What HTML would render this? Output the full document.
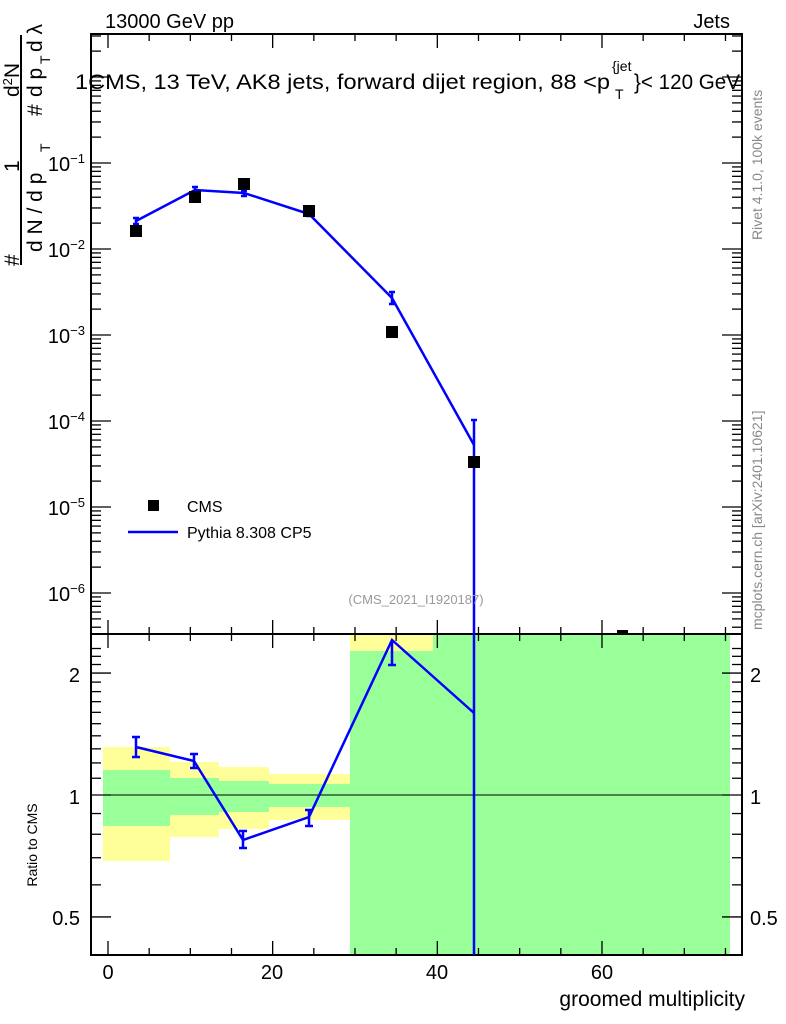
<!DOCTYPE html>
<html><head><meta charset="utf-8"><style>body{margin:0;background:#fff}svg{display:block;font-family:"Liberation Sans",sans-serif}</style></head>
<body>
<svg id="s" width="786" height="1024" viewBox="0 0 786 1024" xmlns="http://www.w3.org/2000/svg">
<rect width="786" height="1024" fill="#fff"/>
<g>
<rect x="103" y="747" width="67" height="114" fill="#ffff99"/>
<rect x="103" y="770" width="67" height="56" fill="#99ff99"/>
<rect x="170" y="762" width="49" height="75" fill="#ffff99"/>
<rect x="170" y="778" width="49" height="37" fill="#99ff99"/>
<rect x="219" y="767" width="50" height="62" fill="#ffff99"/>
<rect x="219" y="781" width="50" height="31" fill="#99ff99"/>
<rect x="269" y="774" width="81" height="46" fill="#ffff99"/>
<rect x="269" y="784" width="81" height="23" fill="#99ff99"/>
<rect x="350" y="634" width="83" height="17" fill="#ffff99"/>
<rect x="350" y="651" width="83" height="304" fill="#99ff99"/>
<rect x="433" y="634" width="297" height="321" fill="#99ff99"/>
</g>
<line x1="91" y1="795" x2="742" y2="795" stroke="#000" stroke-width="1"/>
<g id="ticks" stroke="#000" stroke-width="1.3"></g>
<rect x="91" y="34" width="651" height="600" fill="none" stroke="#000" stroke-width="2"/>
<rect x="91" y="634" width="651" height="321" fill="none" stroke="#000" stroke-width="2"/>
<g stroke="#0000ff" stroke-width="2.5" fill="none">
<polyline points="136,221 195,190 244,193 309,214 392,298 474,445"/>
<line x1="474" y1="420" x2="474" y2="634"/>
<path d="M136,218V224M133,218h6M133,224h6 M195,187V193M192,187h6M192,193h6 M244,191V196M241,191h6M241,196h6 M309,212V216M306,212h6M306,216h6 M392,292V304M389,292h6M389,304h6 M471,420h6"/>
</g>
<g fill="#000">
<rect x="130" y="225" width="12" height="12"/>
<rect x="189" y="191" width="12" height="12"/>
<rect x="238" y="178" width="12" height="12"/>
<rect x="303" y="205" width="12" height="12"/>
<rect x="386" y="326" width="12" height="12"/>
<rect x="468" y="456" width="12" height="12"/>
<rect x="617" y="630" width="11" height="4"/>
</g>
<g stroke="#0000ff" stroke-width="2.5" fill="none">
<polyline points="136,747 194,761 243,840 309,817 392,640 474,713"/>
<line x1="474" y1="634" x2="474" y2="955"/>
<path d="M136,737V757M132,737h8M132,757h8 M194,754V768M190,754h8M190,768h8 M243,831V848M239,831h8M239,848h8 M309,810V826M305,810h8M305,826h8 M392,640V665M388,665h8"/>
</g>
<rect x="148" y="500" width="11" height="11" fill="#000"/>
<text x="187" y="512" font-size="16">CMS</text>
<line x1="128" y1="532" x2="178" y2="532" stroke="#0000ff" stroke-width="2.5"/>
<text x="187" y="538" font-size="16">Pythia 8.308 CP5</text>
<text x="416" y="604" font-size="13" fill="#999" text-anchor="middle">(CMS_2021_I1920187)</text>
<text x="105" y="28" font-size="20">13000 GeV pp</text>
<text x="730" y="28" font-size="20" text-anchor="end">Jets</text>
<text x="75" y="89" font-size="21" textLength="535" lengthAdjust="spacingAndGlyphs">1CMS, 13 TeV, AK8 jets, forward dijet region, 88 &lt;p</text>
<text x="612" y="71" font-size="14">{jet</text>
<text x="615" y="99" font-size="14">T</text>
<text x="634" y="89" font-size="21" textLength="106" lengthAdjust="spacingAndGlyphs">}&lt; 120 GeV</text>
<g font-size="20" text-anchor="end">
<text x="85" y="171">10<tspan font-size="13" dy="-8">−1</tspan></text>
<text x="85" y="257">10<tspan font-size="13" dy="-8">−2</tspan></text>
<text x="85" y="343">10<tspan font-size="13" dy="-8">−3</tspan></text>
<text x="85" y="429">10<tspan font-size="13" dy="-8">−4</tspan></text>
<text x="85" y="515">10<tspan font-size="13" dy="-8">−5</tspan></text>
<text x="85" y="601">10<tspan font-size="13" dy="-8">−6</tspan></text>
<text x="80" y="682">2</text><text x="80" y="804">1</text><text x="80" y="925">0.5</text>
</g>
<g font-size="20">
<text x="750" y="682">2</text><text x="750" y="804">1</text><text x="750" y="925">0.5</text>
</g>
<g font-size="20" text-anchor="middle">
<text x="108" y="979">0</text><text x="272" y="979">20</text><text x="437" y="979">40</text><text x="602" y="979">60</text>
</g>
<text x="745" y="1006" font-size="21" text-anchor="end">groomed multiplicity</text>
<text transform="translate(37,845) rotate(-90)" font-size="14" text-anchor="middle">Ratio to CMS</text>
<line x1="21" y1="35" x2="21" y2="265" stroke="#000" stroke-width="2"/>
<g transform="rotate(-90)" font-size="21">
<text x="-266" y="19">#</text>
<text x="-172" y="19">1</text>
<text x="-97" y="19">d<tspan font-size="13" dy="-7">2</tspan><tspan dy="7">N</tspan></text>
<text x="-252" y="42">d N / d p</text>
<text x="-152" y="50" font-size="14">T</text>
<text x="-116" y="42">#</text>
<text x="-97" y="42">d p</text>
<text x="-64" y="50" font-size="14">T</text>
<text x="-52" y="42">d λ</text>
</g>
<text transform="translate(762,240) rotate(-90)" font-size="14" fill="#888">Rivet 4.1.0,  100k events</text>
<text transform="translate(762,630) rotate(-90)" font-size="14" fill="#888">mcplots.cern.ch [arXiv:2401.10621]</text>
</svg>
<script>
(function(){
var g=document.getElementById('ticks'),s='';
function L(a,b,c,d){s+='<line x1="'+a+'" y1="'+b+'" x2="'+c+'" y2="'+d+'"/>';}
for(var v=0;v<=75;v+=5){var x=108+v*8.233,m=v%20==0;
L(x,34,x,34+(m?14:7));L(x,634,x,634-(m?14:7));L(x,634,x,634+(m?14:7));L(x,955,x,955-(m?14:7));}
for(var d=-7;d<=0;d++){for(var k=1;k<10;k++){var y=163-(d+1)*86-Math.log10(k)*86;if(y<34||y>634)continue;var l=k==1?20:10;
L(91,y,91+l,y);L(742,y,742-l,y);}}
var rv=[0.4,0.5,0.6,0.7,0.8,0.9,1,1.1,1.2,1.3,1.4,1.5,1.6,1.7,1.8,1.9,2,2.1,2.2,2.3];
rv.forEach(function(v){var y=795-Math.log10(v)*405;if(y<634||y>955)return;var l=(v==1||v==2||v==0.5)?20:10;L(91,y,91+l,y);L(742,y,742-l,y);});
g.innerHTML=s;})();
</script>
</body></html>
